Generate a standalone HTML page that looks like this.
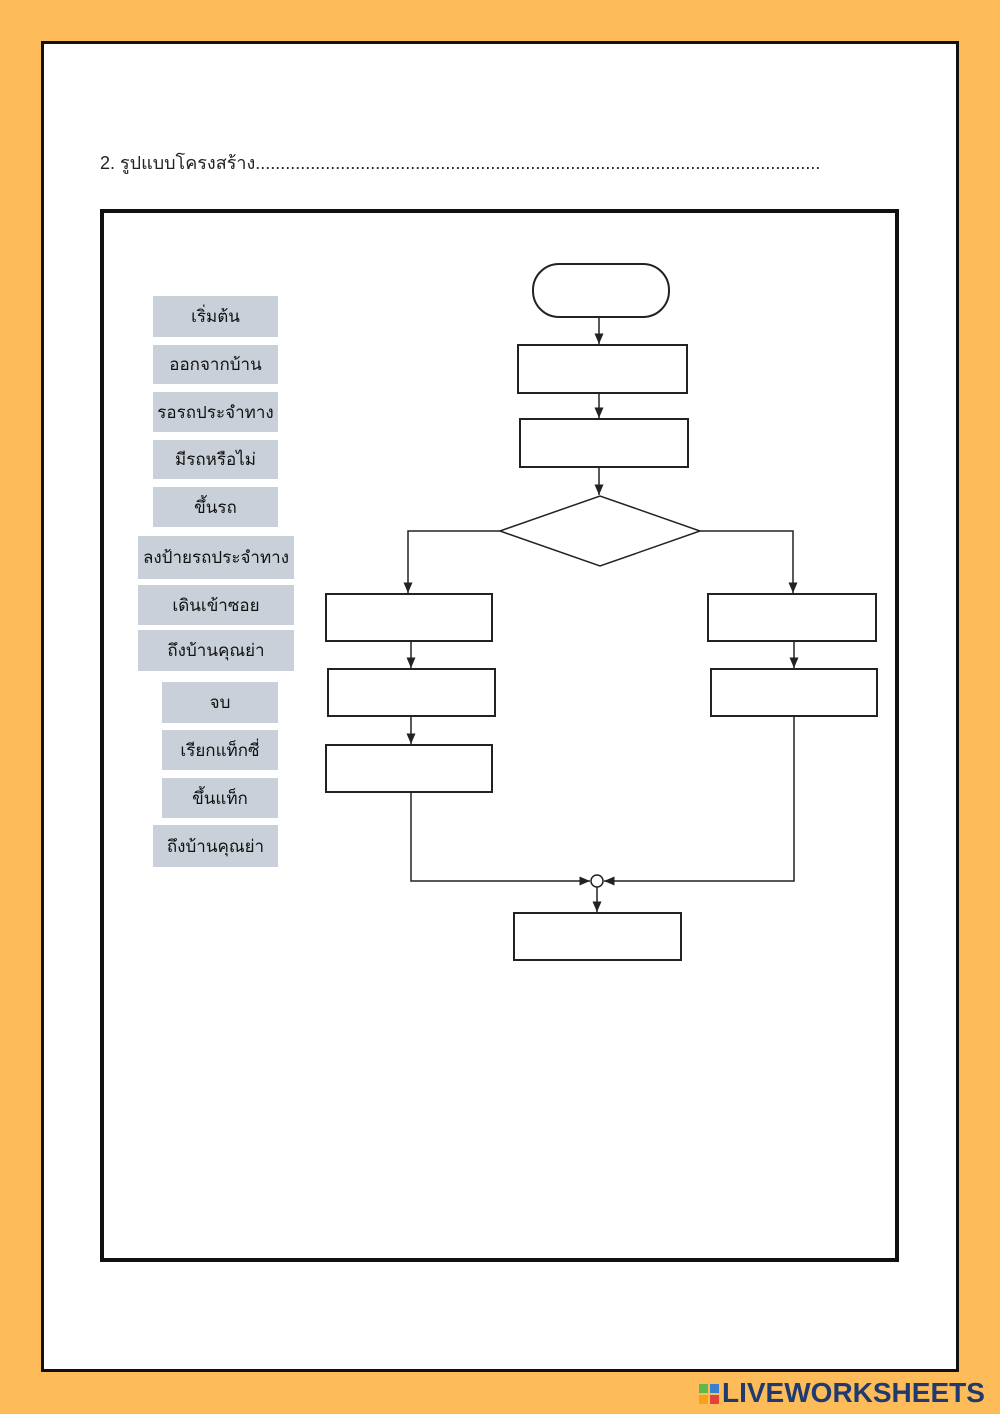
<!DOCTYPE html>
<html><head><meta charset="utf-8"><style>
body{margin:0;background:#fdbb5a;width:1000px;height:1414px;position:relative;overflow:hidden;font-family:"Liberation Sans","DejaVu Sans",sans-serif}
.page{position:absolute;left:41px;top:41px;width:912px;height:1325px;background:#fff;border:3px solid #111}
.lb{position:absolute;background:#c9d0d9;color:#111;font-size:17px;display:flex;align-items:center;justify-content:center}
.logo{position:absolute;left:722px;top:1377px;font-size:28px;font-weight:bold;color:#1f3a6e;letter-spacing:0px}
</style></head><body>
<div class="page"></div>
<div style="position:absolute;left:100px;top:148px;font-size:18px;color:#222;white-space:nowrap">2. รูปแบบโครงสร้าง.................................................................................................................</div>
<div style="position:absolute;left:100px;top:209px;width:791px;height:1045px;border:4px solid #111;background:#fff"></div>
<div class="lb" style="left:153px;top:296px;width:125px;height:41px">เริ่มต้น</div>
<div class="lb" style="left:153px;top:345px;width:125px;height:39px">ออกจากบ้าน</div>
<div class="lb" style="left:153px;top:392px;width:125px;height:40px">รอรถประจำทาง</div>
<div class="lb" style="left:153px;top:440px;width:125px;height:39px">มีรถหรือไม่</div>
<div class="lb" style="left:153px;top:487px;width:125px;height:40px">ขึ้นรถ</div>
<div class="lb" style="left:138px;top:536px;width:156px;height:43px">ลงป้ายรถประจำทาง</div>
<div class="lb" style="left:138px;top:585px;width:156px;height:40px">เดินเข้าซอย</div>
<div class="lb" style="left:138px;top:630px;width:156px;height:41px">ถึงบ้านคุณย่า</div>
<div class="lb" style="left:162px;top:682px;width:116px;height:41px">จบ</div>
<div class="lb" style="left:162px;top:730px;width:116px;height:40px">เรียกแท็กซี่</div>
<div class="lb" style="left:162px;top:778px;width:116px;height:40px">ขึ้นแท็ก</div>
<div class="lb" style="left:153px;top:825px;width:125px;height:42px">ถึงบ้านคุณย่า</div>
<svg style="position:absolute;left:0;top:0" width="1000" height="1414">
<defs><marker id="a" markerWidth="8" markerHeight="8" refX="7" refY="4" orient="auto"><path d="M0,1 L7,4 L0,7 z" fill="#222"/></marker></defs>
<g fill="none" stroke="#222" stroke-width="1.5">
<rect x="533" y="264" width="136" height="53" rx="26" stroke-width="2"/>
<rect x="518" y="345" width="169" height="48" stroke-width="2"/>
<rect x="520" y="419" width="168" height="48" stroke-width="2"/>
<polygon points="500,531 600,496 700,531 600,566" stroke-width="1.5"/>
<rect x="326" y="594" width="166" height="47" stroke-width="2"/>
<rect x="328" y="669" width="167" height="47" stroke-width="2"/>
<rect x="326" y="745" width="166" height="47" stroke-width="2"/>
<rect x="708" y="594" width="168" height="47" stroke-width="2"/>
<rect x="711" y="669" width="166" height="47" stroke-width="2"/>
<rect x="514" y="913" width="167" height="47" stroke-width="2"/>
<line x1="599" y1="317" x2="599" y2="344" marker-end="url(#a)"/>
<line x1="599" y1="393" x2="599" y2="418" marker-end="url(#a)"/>
<line x1="599" y1="467" x2="599" y2="495" marker-end="url(#a)"/>
<polyline points="500,531 408,531 408,593" marker-end="url(#a)"/>
<polyline points="700,531 793,531 793,593" marker-end="url(#a)"/>
<line x1="411" y1="641" x2="411" y2="668" marker-end="url(#a)"/>
<line x1="411" y1="716" x2="411" y2="744" marker-end="url(#a)"/>
<line x1="794" y1="641" x2="794" y2="668" marker-end="url(#a)"/>
<polyline points="411,792 411,881 590,881" marker-end="url(#a)"/>
<polyline points="794,716 794,881 604,881" marker-end="url(#a)"/>
<circle cx="597" cy="881" r="6"/>
<line x1="597" y1="887" x2="597" y2="912" marker-end="url(#a)"/>
</g>
<rect x="699" y="1384" width="9" height="9" fill="#5ab94a"/><rect x="710" y="1384" width="9" height="9" fill="#3a7fd0"/>
<rect x="699" y="1395" width="9" height="9" fill="#f3a21b"/><rect x="710" y="1395" width="9" height="9" fill="#e0433a"/>
</svg>
<div class="logo">LIVEWORKSHEETS</div>
</body></html>
